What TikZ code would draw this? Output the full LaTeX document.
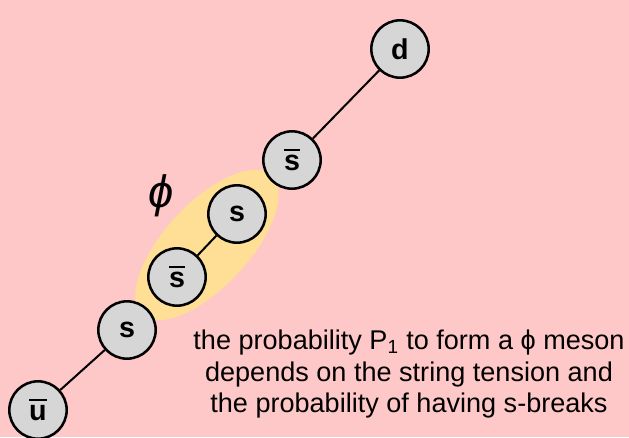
\documentclass[tikz,border=0pt]{standalone}
\usepackage{fontspec}
\setmainfont{Liberation Sans}
\usepackage{xcolor}
\usetikzlibrary{positioning}

\definecolor{bgpink}{RGB}{255,200,200}
\definecolor{quarkgray}{RGB}{214,214,214}
\definecolor{mesonyellow}{RGB}{255,222,150}

% antiquark bar
\newcommand{\antiq}[1]{\setbox0\hbox{#1}\rlap{\raisebox{0.69em}{\rule{\wd0}{1.5pt}}}#1}

\begin{document}
\begin{tikzpicture}[
    x=0.75pt, y=-0.75pt,
    quark/.style={circle, draw, line width=1.9pt, fill=quarkgray, minimum size=43pt, inner sep=0pt, font=\fontsize{21.5}{22}\selectfont\bfseries},
    string/.style={line width=1.5pt},
    meson/.style={fill=mesonyellow},
    note/.style={align=center, font=\fontsize{20.3}{23.4}\selectfont}
]

% background
\fill[bgpink] (0,0) rectangle (629,437);
\useasboundingbox (0,0) rectangle (629,437);

% phi meson
\fill[meson, rotate around={47:(207,245)}] (207,245) ellipse [x radius=95, y radius=42];

% quarks
\node[quark] (ubar) at (38,410) {\antiq{u}};
\node[quark] (s1) at (127,330) {s};
\node[quark] (sbar1) at (177,277) {\antiq{s}};
\node[quark] (s2) at (237,214) {s};
\node[quark] (sbar2) at (292,160) {\antiq{s}};
\node[quark] (d) at (400,49) {d};

\node[font=\fontsize{34}{36}\selectfont\itshape] (philabel) at (161,196) {ϕ};

\node[note] (text) at (409,374) {the probability P\textsubscript{1} to form a ϕ meson\\depends on the string tension and\\the probability of having s-breaks};

% strings
\draw[string] (ubar) -- (s1);
\draw[string] (sbar1) -- (s2);
\draw[string] (sbar2) -- (d);

\end{tikzpicture}
\end{document}
